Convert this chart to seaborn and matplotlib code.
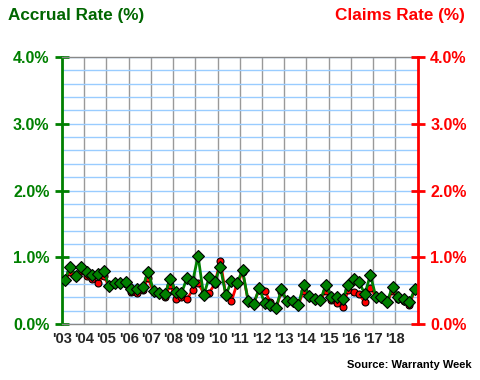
import numpy as np
import pandas as pd
import matplotlib
matplotlib.use("Agg")
import matplotlib.pyplot as plt
from matplotlib.ticker import MultipleLocator
import seaborn as sns

# quarterly rates, 2003 Q1 .. 2018 Q4 (percent)
accrual_rate = [0.66, 0.86, 0.72, 0.86, 0.78, 0.74, 0.75, 0.80,
                0.57, 0.61, 0.61, 0.63, 0.53, 0.52, 0.55, 0.78,
                0.50, 0.47, 0.45, 0.67, 0.48, 0.46, 0.69, 0.63,
                1.02, 0.43, 0.70, 0.63, 0.86, 0.43, 0.65, 0.61,
                0.81, 0.35, 0.30, 0.54, 0.31, 0.29, 0.24, 0.52,
                0.34, 0.34, 0.285, 0.58, 0.42, 0.37, 0.36, 0.585,
                0.40, 0.41, 0.37, 0.585, 0.68, 0.625, 0.45, 0.735,
                0.41, 0.41, 0.335, 0.56, 0.41, 0.37, 0.33, 0.52]
claims_rate = [0.66, 0.78, 0.71, 0.80, 0.72, 0.68, 0.62, 0.72,
               0.57, 0.61, 0.61, 0.60, 0.48, 0.46, 0.51, 0.69,
               0.48, 0.46, 0.41, 0.585, 0.38, 0.40, 0.37, 0.51,
               0.61, 0.47, 0.47, 0.60, 0.95, 0.43, 0.345, 0.60,
               0.78, 0.36, 0.31, 0.52, 0.50, 0.33, 0.24, 0.485,
               0.36, 0.33, 0.285, 0.50, 0.41, 0.36, 0.36, 0.50,
               0.36, 0.32, 0.26, 0.51, 0.485, 0.45, 0.325, 0.545,
               0.41, 0.39, 0.33, 0.50, 0.37, 0.35, 0.29, 0.51]
years = list(range(2003, 2019))
year_labels = ["'03", "'04", "'05", "'06", "'07", "'08", "'09", "'10",
               "'11", "'12", "'13", "'14", "'15", "'16", "'17", "'18"]

# quarter midpoints as x
quarter_pos = [y + (q + 0.5) / 4 for y in years for q in range(4)]
df = pd.DataFrame({"Quarter": quarter_pos, "Accrual": accrual_rate, "Claims": claims_rate})

sns.set_style("white")
plt.rcParams['font.family'] = ['Liberation Sans', 'DejaVu Sans']
plt.rcParams['font.weight'] = 'bold'

green = '#008000'
dark_green = '#006600'
red = '#ff0000'

fig = plt.figure(figsize=(4.8, 3.8), dpi=100)
ax = fig.add_axes([0.129, 0.147, 0.741, 0.703])

# claims drawn first so the accrual line sits on top
sns.lineplot(data=df, x="Quarter", y="Claims", ax=ax, color=red, linewidth=2,
             marker='o', markersize=5, markerfacecolor=red, markeredgecolor='black',
             markeredgewidth=0.8, zorder=3)
sns.lineplot(data=df, x="Quarter", y="Accrual", ax=ax, color=green, linewidth=2,
             marker='D', markersize=5.8, markerfacecolor=green, markeredgecolor='black',
             markeredgewidth=0.8, zorder=4)

ax.set_xlim(2003, 2019)
ax.set_ylim(0, 4)
ax.set_xticks(years)
ax.set_xticklabels(year_labels, fontsize=10.5, fontweight='bold')
ax.set_yticks([0, 1, 2, 3, 4])
ax.set_yticklabels([f"{v:.1f}%" for v in [0, 1, 2, 3, 4]], fontsize=11.5, fontweight='bold')
ax.yaxis.set_minor_locator(MultipleLocator(0.2))
ax.set_xlabel("")
ax.set_ylabel("")

ax.grid(axis='y', which='both', color='#99ccff', linewidth=1, zorder=0)
ax.grid(axis='x', which='major', color='#999999', linewidth=1, zorder=0)
ax.set_axisbelow(True)

for s in ['top', 'bottom']:
    ax.spines[s].set_color('#888888')
    ax.spines[s].set_linewidth(1)
ax.spines['right'].set_visible(False)
ax.spines['left'].set_color(green)
ax.spines['left'].set_linewidth(2)
ax.tick_params(axis='y', which='major', direction='inout', length=10, width=2,
               color=green, labelcolor=green, pad=4)
ax.tick_params(axis='y', which='minor', length=0)
ax.tick_params(axis='x', direction='out', length=3, width=1, color='#888888', pad=3)

ax2 = ax.twinx()
ax2.set_ylim(0, 4)
ax2.set_yticks([0, 1, 2, 3, 4])
ax2.set_yticklabels([f"{v:.1f}%" for v in [0, 1, 2, 3, 4]], fontsize=11.5, fontweight='bold')
for s in ['top', 'bottom', 'left']:
    ax2.spines[s].set_visible(False)
ax2.spines['right'].set_color(red)
ax2.spines['right'].set_linewidth(2)
ax2.tick_params(axis='y', direction='inout', length=10, width=2, color=red,
                labelcolor=red, pad=4)

fig.text(0.017, 0.96, "Accrual Rate (%)", color=dark_green, fontsize=12.3,
         fontweight='bold', ha='left', va='center')
fig.text(0.969, 0.96, "Claims Rate (%)", color=red, fontsize=12.3,
         fontweight='bold', ha='right', va='center')
fig.text(0.983, 0.04, "Source: Warranty Week", color='black', fontsize=8,
         fontweight='bold', ha='right', va='center')

fig.savefig("out.png", dpi=100)
